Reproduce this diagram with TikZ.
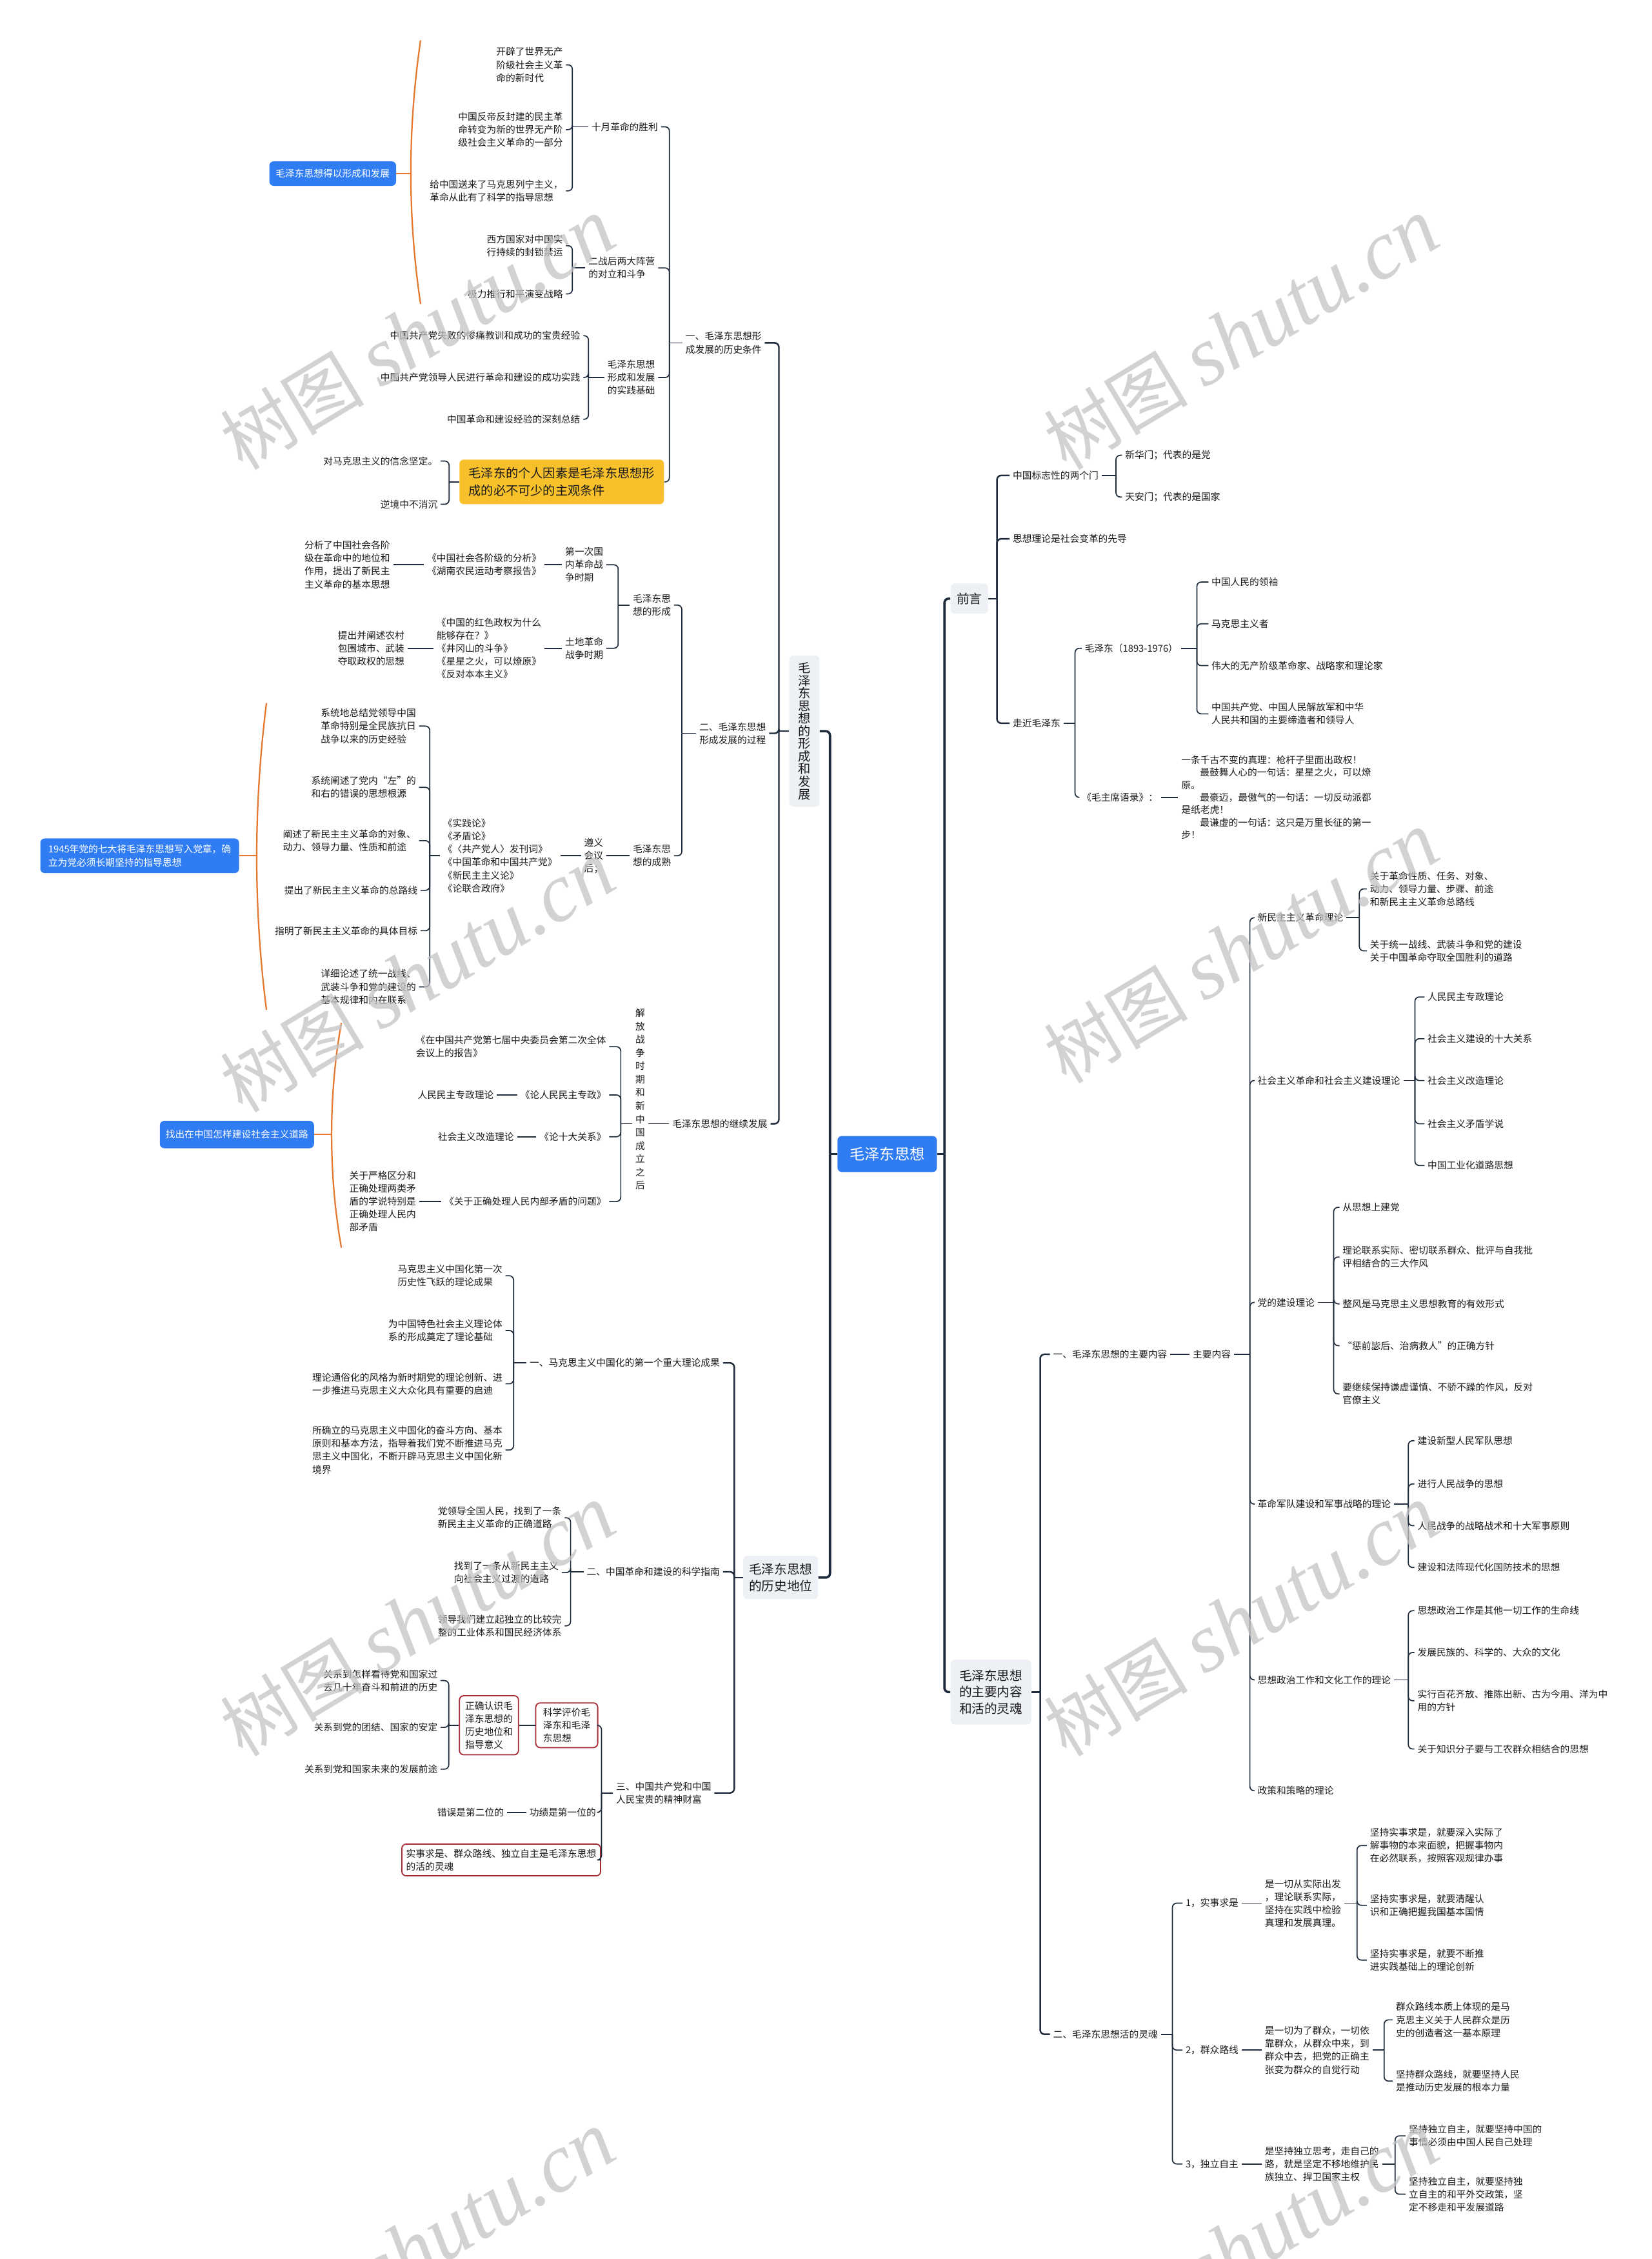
\documentclass[tikz,border=0pt]{standalone}
\usepackage{fontspec}
\setmainfont{Noto Sans CJK SC}
\newfontfamily\wmserif{Liberation Serif}
\usetikzlibrary{calc}
\definecolor{lnc}{HTML}{1E2B3C}
\definecolor{txc}{HTML}{1A1A1A}
\definecolor{bluec}{HTML}{2F7CF3}
\definecolor{grayc}{HTML}{EDF0F4}
\definecolor{yelc}{HTML}{F8C12C}
\definecolor{redc}{HTML}{A52A34}
\definecolor{orc}{HTML}{E5772E}
\definecolor{wmc}{HTML}{C4C4C4}
\newcommand\sfs{\fontsize{6.6pt}{9pt}\selectfont}
\newcommand\bL[4][conn]{\draw[#1] #2 -- ++(#3,0) coordinate (jn);\foreach \nm in {#4}{\draw[#1,rounded corners=3pt] (jn) |- (\nm.east);}}
\newcommand\bR[4][conn]{\draw[#1] #2 -- ++(#3,0) coordinate (jn);\foreach \nm in {#4}{\draw[#1,rounded corners=3pt] (jn) |- (\nm.west);}}
\newcommand\wmtext{{\fontsize{50pt}{50pt}\selectfont 树图 }{\wmserif\itshape\fontsize{58pt}{58pt}\selectfont shutu.cn}}
\begin{document}
\begin{tikzpicture}[x=1pt,y=-1pt,
 conn/.style={draw=lnc,line width=0.75pt},
 midconn/.style={draw=lnc,line width=1.1pt},
 mainconn/.style={draw=lnc,line width=1.6pt},
 orng/.style={draw=orc,line width=1pt},
 leaf/.style={inner xsep=2pt,inner ysep=1pt,align=left,font=\sfs,text=txc},
 lleaf/.style={leaf,anchor=east},
 rleaf/.style={leaf,anchor=west},
 lvone/.style={fill=grayc,rounded corners=3pt,text=txc,font=\fontsize{8.8pt}{11.5pt}\selectfont,align=center,inner sep=2pt},
 rootbox/.style={fill=bluec,rounded corners=3pt,text=white,font=\fontsize{10.4pt}{12pt}\selectfont,minimum width=69pt,minimum height=25pt,inner sep=2pt},
 bluebox/.style={fill=bluec,rounded corners=3pt,text=white,font=\sfs,align=left,inner sep=3pt},
 yelbox/.style={fill=yelc,rounded corners=3pt,text=txc,font=\fontsize{8.6pt}{12pt}\selectfont,align=left,minimum width=142pt,minimum height=31pt},
 redbox/.style={draw=redc,line width=0.8pt,fill=white,rounded corners=3pt,text=txc,font=\sfs,align=left,inner xsep=3pt,inner ysep=3pt},
 wm/.style={text=wmc,text opacity=0.75,rotate=31,inner sep=0pt}
]
\fill[white] (0,0) rectangle (1147,1568);
\useasboundingbox (0,0) rectangle (1147,1568);

% ---------- root and level one ----------
\node[rootbox] (root) at (616,801) {毛泽东思想};
\node[lvone,minimum width=21pt,minimum height=105pt,font=\fontsize{8.6pt}{8.75pt}\selectfont] (A) at (558.5,507.5) {毛\\泽\\东\\思\\想\\的\\形\\成\\和\\发\\展};
\node[lvone,minimum width=52pt,minimum height=30pt] (B) at (542,1095) {毛泽东思想\\的历史地位};
\node[lvone,minimum width=26pt,minimum height=21pt] (C) at (673,415.5) {前言};
\node[lvone,minimum width=56pt,minimum height=45pt] (D) at (688,1174.5) {毛泽东思想\\的主要内容\\和活的灵魂};
\bL[mainconn]{(root.west)}{-5}{A,B}
\bR[mainconn]{(root.east)}{5}{C,D}

% ---------- A: formation ----------
\node[lleaf] (a1) at (531,238) {一、毛泽东思想形\\成发展的历史条件};
\node[lleaf] (a2) at (534,509) {二、毛泽东思想\\形成发展的过程};
\node[lleaf] (a3) at (535,780) {毛泽东思想的继续发展};
\bL[midconn]{(A.west)}{-7}{a1,a2,a3}

\node[lleaf] (oct) at (459,88) {十月革命的胜利};
\node[lleaf] (ww2) at (457,186) {二战后两大阵营\\的对立和斗争};
\node[lleaf] (prac) at (457,262) {毛泽东思想\\形成和发展\\的实践基础};
\node[yelbox] (yel) at (390,334.5) {毛泽东的个人因素是毛泽东思想形\\成的必不可少的主观条件};
\bL{(a1.west)}{-9}{oct,ww2,prac,yel}

\node[lleaf] (o1) at (393,45) {开辟了世界无产\\阶级社会主义革\\命的新时代};
\node[lleaf] (o2) at (393,90) {中国反帝反封建的民主革\\命转变为新的世界无产阶\\级社会主义革命的一部分};
\node[lleaf] (o3) at (393,132.5) {给中国送来了马克思列宁主义，\\革命从此有了科学的指导思想};
\bL{(oct.west)}{-11}{o1,o2,o3}

\node[lleaf] (w1) at (393,170.5) {西方国家对中国实\\行持续的封锁禁运};
\node[lleaf] (w2) at (393,204) {极力推行和平演变战略};
\bL{(ww2.west)}{-9}{w1,w2}

\node[lleaf] (p1) at (405,233) {中国共产党失败的惨痛教训和成功的宝贵经验};
\node[lleaf] (p2) at (405,262) {中国共产党领导人民进行革命和建设的成功实践};
\node[lleaf] (p3) at (405,291) {中国革命和建设经验的深刻总结};
\bL{(prac.west)}{-11}{p1,p2,p3}

\node[lleaf] (y1) at (306,320) {对马克思主义的信念坚定。};
\node[lleaf] (y2) at (306,350) {逆境中不消沉};
\bL{(yel.west)}{-7}{y1,y2}

\node[bluebox,minimum width=88pt,minimum height=17pt] (sum1) at (231,120.5) {毛泽东思想得以形成和发展};
\draw[orng] (292,28) .. controls (283,90) and (283,150) .. (292,211);
\coordinate (om1) at (285.3,120.5);
\draw[orng] (sum1.east) -- (om1);

% process
\node[lleaf] (f1) at (468,420) {毛泽东思\\想的形成};
\node[lleaf] (f2) at (468,594) {毛泽东思\\想的成熟};
\bL{(a2.west)}{-10}{f1,f2}

\node[lleaf] (f11) at (421,392) {第一次国\\内革命战\\争时期};
\node[lleaf] (f12) at (421,450) {土地革命\\战争时期};
\bL{(f1.west)}{-8}{f11,f12}

\node[lleaf] (bk1) at (378,392) {《中国社会各阶级的分析》\\《湖南农民运动考察报告》};
\node[lleaf] (an1) at (273,392) {分析了中国社会各阶\\级在革命中的地位和\\作用，提出了新民主\\主义革命的基本思想};
\draw[conn] (f11.west) -- (bk1.east);
\draw[conn] (bk1.west) -- (an1.east);

\node[lleaf] (bk2) at (378,450) {《中国的红色政权为什么\\能够存在？》\\《井冈山的斗争》\\《星星之火，可以燎原》\\《反对本本主义》};
\node[lleaf] (an2) at (283,450) {提出并阐述农村\\包围城市、武装\\夺取政权的思想};
\draw[conn] (f12.west) -- (bk2.east);
\draw[conn] (bk2.west) -- (an2.east);

\node[lleaf] (zy) at (421,594) {遵义\\会议\\后；};
\node[lleaf] (bk3) at (389,594) {《实践论》\\《矛盾论》\\《〈共产党人〉发刊词》\\《中国革命和中国共产党》\\《新民主主义论》\\《论联合政府》};
\draw[conn] (f2.west) -- (zy.east);
\draw[conn] (zy.west) -- (bk3.east);

\node[lleaf] (m1) at (291,504) {系统地总结党领导中国\\革命特别是全民族抗日\\战争以来的历史经验};
\node[lleaf] (m2) at (291,546.5) {系统阐述了党内“左”的\\和右的错误的思想根源};
\node[lleaf] (m3) at (291,583.5) {阐述了新民主主义革命的对象、\\动力、领导力量、性质和前途};
\node[lleaf] (m4) at (292,618) {提出了新民主主义革命的总路线};
\node[lleaf] (m5) at (292,646) {指明了新民主主义革命的具体目标};
\node[lleaf] (m6) at (291,685) {详细论述了统一战线、\\武装斗争和党的建设的\\基本规律和内在联系};
\bL{(bk3.west)}{-7}{m1,m2,m3,m4,m5,m6}

\node[bluebox,minimum width=138pt,minimum height=24pt] (sum2) at (97,594) {1945年党的七大将毛泽东思想写入党章，确\\立为党必须长期坚持的指导思想};
\draw[orng] (185,488) .. controls (176,560) and (176,630) .. (185,701);
\coordinate (om2) at (178.3,594);
\draw[orng] (sum2.east) -- (om2);

% continued development
\node[leaf,align=center,font=\fontsize{6.6pt}{9.2pt}\selectfont] (v1) at (444.5,763) {解\\放\\战\\争\\时\\期\\和\\新\\中\\国\\成\\立\\之\\后};
\draw[conn] (a3.west) -- (a3.west -| v1.east);
\node[lleaf] (j1) at (423,726.5) {《在中国共产党第七届中央委员会第二次全体\\会议上的报告》};
\node[lleaf] (j2) at (423,760) {《论人民民主专政》};
\node[lleaf] (j3) at (423,789) {《论十大关系》};
\node[lleaf] (j4) at (423,834) {《关于正确处理人民内部矛盾的问题》};
\bL{(v1.west |- a3.west)}{-8}{j1,j2,j3,j4}
\node[lleaf] (j2a) at (345,760) {人民民主专政理论};
\node[lleaf] (j3a) at (359,789) {社会主义改造理论};
\node[lleaf] (j4a) at (291,834) {关于严格区分和\\正确处理两类矛\\盾的学说特别是\\正确处理人民内\\部矛盾};
\draw[conn] (j2.west) -- (j2a.east);
\draw[conn] (j3.west) -- (j3a.east);
\draw[conn] (j4.west) -- (j4a.east);

\node[bluebox,minimum width=107pt,minimum height=19pt] (sum3) at (164.5,787.5) {找出在中国怎样建设社会主义道路};
\draw[orng] (237,710) .. controls (228,760) and (228,815) .. (237,866);
\coordinate (om3) at (230.4,787.5);
\draw[orng] (sum3.east) -- (om3);

% ---------- B: historical position ----------
\node[lleaf] (b1) at (502,946) {一、马克思主义中国化的第一个重大理论成果};
\node[lleaf] (b2) at (502,1091) {二、中国革命和建设的科学指南};
\node[lleaf] (b3) at (496,1244.5) {三、中国共产党和中国\\人民宝贵的精神财富};
\bL[midconn]{(B.west)}{-6}{b1,b2,b3}

\node[lleaf] (c1) at (351,885.5) {马克思主义中国化第一次\\历史性飞跃的理论成果};
\node[lleaf] (c2) at (351,923.5) {为中国特色社会主义理论体\\系的形成奠定了理论基础};
\node[lleaf] (c3) at (351,960.5) {理论通俗化的风格为新时期党的理论创新、进\\一步推进马克思主义大众化具有重要的启迪};
\node[lleaf] (c4) at (351,1006.5) {所确立的马克思主义中国化的奋斗方向、基本\\原则和基本方法，指导着我们党不断推进马克\\思主义中国化，不断开辟马克思主义中国化新\\境界};
\bL{(b1.west)}{-9}{c1,c2,c3,c4}

\node[lleaf] (d1) at (392,1053.5) {党领导全国人民，找到了一条\\新民主主义革命的正确道路};
\node[lleaf] (d2) at (390,1091.5) {找到了一条从新民主主义\\向社会主义过渡的道路};
\node[lleaf] (d3) at (392,1128.5) {领导我们建立起独立的比较完\\整的工业体系和国民经济体系};
\bL{(b2.west)}{-9}{d1,d2,d3}

\node[redbox,minimum width=43pt,minimum height=31pt] (rb1) at (393.5,1197.5) {科学评价毛\\泽东和毛泽\\东思想};
\node[lleaf] (gj) at (416,1258) {功绩是第一位的};
\node[redbox,minimum width=136pt,minimum height=22pt] (rb3) at (348,1291) {实事求是、群众路线、独立自主是毛泽东思想\\的活的灵魂};
\bL{(b3.west)}{-8}{rb1,gj,rb3}
\node[redbox,minimum width=41pt,minimum height=41pt] (rb2) at (339.5,1197.5) {正确认识毛\\泽东思想的\\历史地位和\\指导意义};
\draw[conn] (rb1.west) -- (rb2.east);
\node[lleaf] (r1) at (306,1166.5) {关系到怎样看待党和国家过\\去几十年奋斗和前进的历史};
\node[lleaf] (r2) at (306,1199) {关系到党的团结、国家的安定};
\node[lleaf] (r3) at (306,1228) {关系到党和国家未来的发展前途};
\bL{(rb2.west)}{-7}{r1,r2,r3}
\node[lleaf] (cw) at (352,1258) {错误是第二位的};
\draw[conn] (gj.west) -- (cw.east);

% ---------- C: preface ----------
\node[rleaf] (q1) at (701,330) {中国标志性的两个门};
\node[rleaf] (q2) at (701,374) {思想理论是社会变革的先导};
\node[rleaf] (q3) at (701,502) {走近毛泽东};
\bR[midconn]{(C.east)}{6}{q1,q2,q3}
\node[rleaf] (q11) at (779,316) {新华门；代表的是党};
\node[rleaf] (q12) at (779,345) {天安门；代表的是国家};
\bR{(q1.east)}{10}{q11,q12}
\node[rleaf] (mz) at (751,450) {毛泽东（1893-1976）};
\node[rleaf] (yl) at (749,553.5) {《毛主席语录》：};
\bR{(q3.east)}{8}{mz,yl}
\node[rleaf] (mz1) at (839,404) {中国人民的领袖};
\node[rleaf] (mz2) at (839,433) {马克思主义者};
\node[rleaf] (mz3) at (839,462) {伟大的无产阶级革命家、战略家和理论家};
\node[rleaf] (mz4) at (839,495.5) {中国共产党、中国人民解放军和中华\\人民共和国的主要缔造者和领导人};
\bR{(mz.east)}{11}{mz1,mz2,mz3,mz4}
\node[rleaf,font=\fontsize{6.6pt}{8.7pt}\selectfont] (qt) at (818,553.5) {一条千古不变的真理：枪杆子里面出政权！\\\hspace*{13pt}最鼓舞人心的一句话：星星之火，可以燎\\原。\\\hspace*{13pt}最豪迈，最傲气的一句话：一切反动派都\\是纸老虎！\\\hspace*{13pt}最谦虚的一句话：这只是万里长征的第一\\步！};
\draw[conn] (yl.east) -- (qt.west);

% ---------- D: main content ----------
\node[rleaf] (e1) at (729,940) {一、毛泽东思想的主要内容};
\node[rleaf] (e2) at (729,1412) {二、毛泽东思想活的灵魂};
\bR[midconn]{(D.east)}{6}{e1,e2}
\node[rleaf] (zn) at (826,940) {主要内容};
\draw[conn] (e1.east) -- (zn.west);
\node[rleaf] (g1) at (871,637) {新民主主义革命理论};
\node[rleaf] (g2) at (871,750) {社会主义革命和社会主义建设理论};
\node[rleaf] (g3) at (871,904) {党的建设理论};
\node[rleaf] (g4) at (871,1044) {革命军队建设和军事战略的理论};
\node[rleaf] (g5) at (871,1166) {思想政治工作和文化工作的理论};
\node[rleaf] (g6) at (871,1243) {政策和策略的理论};
\bR{(zn.east)}{11}{g1,g2,g3,g4,g5,g6}

\node[rleaf] (g11) at (949,617) {关于革命性质、任务、对象、\\动力、领导力量、步骤、前途\\和新民主主义革命总路线};
\node[rleaf] (g12) at (949,660) {关于统一战线、武装斗争和党的建设\\关于中国革命夺取全国胜利的道路};
\bR{(g1.east)}{9}{g11,g12}

\node[rleaf] (g21) at (989,692) {人民民主专政理论};
\node[rleaf] (g22) at (989,721) {社会主义建设的十大关系};
\node[rleaf] (g23) at (989,750) {社会主义改造理论};
\node[rleaf] (g24) at (989,780) {社会主义矛盾学说};
\node[rleaf] (g25) at (989,809) {中国工业化道路思想};
\bR{(g2.east)}{8}{g21,g22,g23,g24,g25}

\node[rleaf] (g31) at (930,838) {从思想上建党};
\node[rleaf] (g32) at (930,872.5) {理论联系实际、密切联系群众、批评与自我批\\评相结合的三大作风};
\node[rleaf] (g33) at (930,905) {整风是马克思主义思想教育的有效形式};
\node[rleaf] (g34) at (930,934) {“惩前毖后、治病救人”的正确方针};
\node[rleaf] (g35) at (930,967.5) {要继续保持谦虚谨慎、不骄不躁的作风，反对\\官僚主义};
\bR{(g3.east)}{11}{g31,g32,g33,g34,g35}

\node[rleaf] (g41) at (982,1000) {建设新型人民军队思想};
\node[rleaf] (g42) at (982,1030) {进行人民战争的思想};
\node[rleaf] (g43) at (982,1059) {人民战争的战略战术和十大军事原则};
\node[rleaf] (g44) at (982,1088) {建设和法阵现代化国防技术的思想};
\bR{(g4.east)}{10}{g41,g42,g43,g44}

\node[rleaf] (g51) at (982,1118) {思想政治工作是其他一切工作的生命线};
\node[rleaf] (g52) at (982,1147) {发展民族的、科学的、大众的文化};
\node[rleaf] (g53) at (982,1180.5) {实行百花齐放、推陈出新、古为今用、洋为中\\用的方针};
\node[rleaf] (g54) at (982,1214) {关于知识分子要与工农群众相结合的思想};
\bR{(g5.east)}{10}{g51,g52,g53,g54}

% living soul
\node[rleaf] (h1) at (821,1321) {1，实事求是};
\node[rleaf] (h2) at (821,1423) {2，群众路线};
\node[rleaf] (h3) at (821,1502) {3，独立自主};
\bR{(e2.east)}{8}{h1,h2,h3}

\node[rleaf] (hh1) at (876,1321) {是一切从实际出发\\，理论联系实际，\\坚持在实践中检验\\真理和发展真理。};
\node[rleaf] (hh2) at (876,1423) {是一切为了群众，一切依\\靠群众，从群众中来，到\\群众中去，把党的正确主\\张变为群众的自觉行动};
\node[rleaf] (hh3) at (876,1502) {是坚持独立思考，走自己的\\路，就是坚定不移地维护民\\族独立、捍卫国家主权};
\draw[conn] (h1.east) -- (hh1.west);
\draw[conn] (h2.east) -- (hh2.west);
\draw[conn] (h3.east) -- (hh3.west);

\node[rleaf] (i1) at (949,1281) {坚持实事求是，就要深入实际了\\解事物的本来面貌，把握事物内\\在必然联系，按照客观规律办事};
\node[rleaf] (i2) at (949,1322.5) {坚持实事求是，就要清醒认\\识和正确把握我国基本国情};
\node[rleaf] (i3) at (949,1360.5) {坚持实事求是，就要不断推\\进实践基础上的理论创新};
\bR{(hh1.east)}{9}{i1,i2,i3}

\node[rleaf] (i4) at (967,1402) {群众路线本质上体现的是马\\克思主义关于人民群众是历\\史的创造者这一基本原理};
\node[rleaf] (i5) at (967,1444.5) {坚持群众路线，就要坚持人民\\是推动历史发展的根本力量};
\bR{(hh2.east)}{8}{i4,i5}

\node[rleaf] (i6) at (976,1482.5) {坚持独立自主，就要坚持中国的\\事情必须由中国人民自己处理};
\node[rleaf] (i7) at (976,1523) {坚持独立自主，就要坚持独\\立自主的和平外交政策，坚\\定不移走和平发展道路};
\bR{(hh3.east)}{9}{i6,i7}

% ---------- watermarks ----------
\node[wm] (wm1) at (290,232) {\wmtext};
\node[wm] (wm2) at (862,232) {\wmtext};
\node[wm] (wm3) at (290,678) {\wmtext};
\node[wm] (wm4) at (862,658) {\wmtext};
\node[wm] (wm5) at (290,1125) {\wmtext};
\node[wm] (wm6) at (862,1125) {\wmtext};
\node[wm] (wm7) at (290,1560) {\wmtext};
\node[wm] (wm8) at (862,1560) {\wmtext};
\end{tikzpicture}
\end{document}
